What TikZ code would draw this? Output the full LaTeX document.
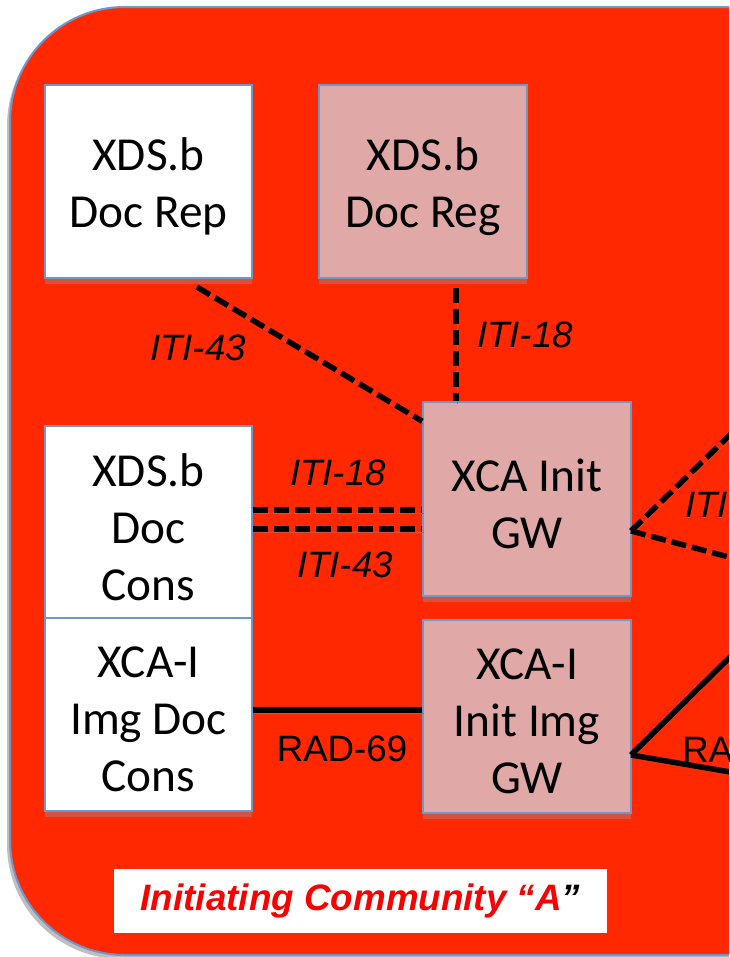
\documentclass[tikz,border=0pt]{standalone}
\usepackage{fontspec}
\setmainfont{Carlito}
\newfontfamily\arialf{Liberation Sans}
\usetikzlibrary{shadows,calc}
\newlength\pxu \setlength\pxu{0.75pt}
\definecolor{bgred}{RGB}{255,40,0}
\definecolor{pinkb}{RGB}{224,168,166}
\definecolor{edgeb}{RGB}{108,152,206}
\definecolor{shred}{RGB}{214,82,62}
\definecolor{txtred}{RGB}{250,0,0}
\begin{document}
\begin{tikzpicture}[x=0.75pt,y=-0.75pt,
  box/.style={draw=edgeb, line width=1.5\pxu, minimum height=193\pxu, inner sep=0pt,
    drop shadow={shadow xshift=0pt, shadow yshift=-6\pxu, fill=shred, opacity=1}},
  btext/.style={yshift=-5\pxu, inner sep=0pt, align=center,
    font=\fontsize{35.5}{42.75}\selectfont},
  lshadow/.style={preaction={draw=shred, transform canvas={shift={(1.5\pxu,-3\pxu)}}}},
  dline/.style={line width=5.5\pxu, dash pattern=on 15\pxu off 6\pxu, black, lshadow},
  sline/.style={line width=5.5\pxu, black, lshadow},
  lbl/.style={inner sep=0pt, font=\arialf\itshape\fontsize{27.5}{33}\selectfont},
  ulbl/.style={inner sep=0pt, font=\arialf\fontsize{27.5}{33}\selectfont}]
\useasboundingbox (0,0) rectangle (729,957);
\clip (0,0) rectangle (729,957);
\fill[white] (0,0) rectangle (729,957);
% community background
\fill[black!25, rounded corners=86pt] (7,11) rectangle (950,959);
\filldraw[fill=bgred, draw=edgeb, line width=2\pxu, rounded corners=86pt] (10,7) rectangle (950,955);
% boxes
\node[box, fill=white, minimum width=207\pxu, label={[btext]center:XDS.b\\Doc Rep}] (rep) at (148.5,181.5) {};
\node[box, fill=pinkb, minimum width=208\pxu, label={[btext]center:XDS.b\\Doc Reg}] (reg) at (423,181.5) {};
\node[box, fill=white, minimum width=207\pxu, minimum height=192\pxu, label={[btext]center:XDS.b\\Doc\\Cons}] (cons) at (148.5,522) {};
\node[box, fill=white, minimum width=207\pxu, label={[btext]center:XCA-I\\Img Doc\\Cons}] (icons) at (148.5,714.5) {};
\node[box, fill=pinkb, minimum width=208\pxu, minimum height=194\pxu, label={[btext]center:XCA Init\\GW}] (gw) at (527,499) {};
\node[box, fill=pinkb, minimum width=208\pxu, label={[btext]center:XCA-I\\Init Img\\GW}] (igw) at (527,716.5) {};
% connector end points
\coordinate (p1) at (197,287);
\coordinate (p2) at (456,288);
\coordinate (q1) at (631,531);
\coordinate (q2) at (631,755);
\coordinate (r1) at (800,367);
\coordinate (r2) at (800,576);
\coordinate (r3) at (800,588);
\coordinate (r4) at (800,784);
% connectors
\draw[dline] (p1) -- ($(gw.north west)+(0,20)$);
\draw[dline] (p2) -- (p2 |- gw.north);
\draw[dline] (cons.east |- 0,510) -- (gw.west |- 0,510);
\draw[dline] (cons.east |- 0,529) -- (gw.west |- 0,529);
\draw[sline] (icons.east |- 0,710) -- (igw.west |- 0,710);
\draw[dline] (q1) -- (r1);
\draw[dline] (q1) -- (r2);
\draw[sline] (q2) -- (r3);
\draw[sline] (q2) -- (r4);
% labels
\node[lbl] (l1) at (198,348) {ITI-43};
\node[lbl] (l2) at (525,335) {ITI-18};
\node[lbl] (l3) at (338,472.5) {ITI-18};
\node[lbl] (l4) at (345,565) {ITI-43};
\node[ulbl] (l5) at (342,748.5) {RAD-69};
\node[lbl, anchor=west] (l6) at (685,505) {ITI};
\node[ulbl, anchor=west] (l7) at (682,750) {RA};
% community title
\node[fill=white, minimum width=493\pxu, minimum height=64\pxu, inner sep=0pt,
  font=\arialf\bfseries\itshape\fontsize{27.6}{33}\selectfont, text=txtred]
  (title) at (360.5,901) {Initiating Community “A\textcolor{black}{”}};
\end{tikzpicture}
\end{document}
